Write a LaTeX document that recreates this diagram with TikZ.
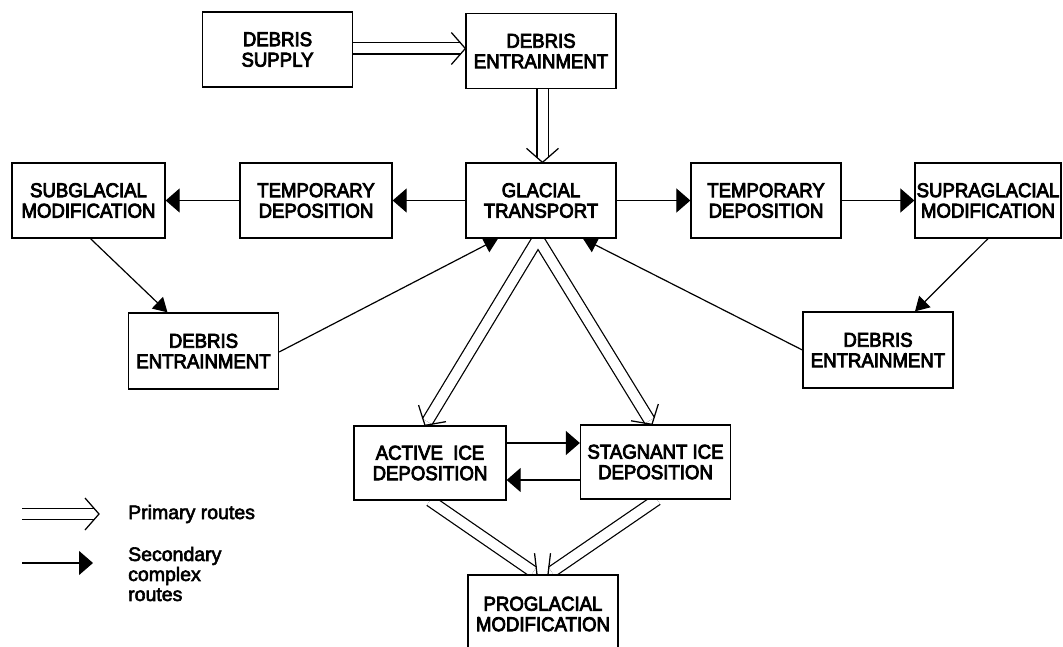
\documentclass[tikz,border=0pt]{standalone}
\usepackage{fontspec}
\newfontfamily\boxfont[FakeStretch=0.93,FakeBold=4]{Liberation Sans}
\newfontfamily\legfont[FakeBold=3]{Liberation Sans}
\usetikzlibrary{calc,arrows.meta,backgrounds}
\tikzset{
 box/.style={draw, line width=1.3pt, fill=white, minimum width=150pt, minimum height=75pt,
   inner sep=0pt, align=center, font=\boxfont\fontsize{20}{20.5}\selectfont},
 sec/.style={line width=1.2pt, -{Triangle[length=14pt,width=24pt]}},
 secd/.style={line width=1.2pt, -{Triangle[length=14pt,width=16pt]}},
 primb/.style={line width=12.5pt, black},
 primw/.style={line width=10pt, white},
 chev/.style={line width=1.25pt, line join=miter},
 legtext/.style={anchor=west, inner sep=0pt, align=left, font=\legfont\fontsize{19.5}{20}\selectfont}
}
\newcommand\primB[2]{\path ($(#2)!4.5pt!(#1)$) coordinate (pE); \draw[primb] (#1) -- (pE);}
\newcommand\primW[2]{\path ($(#2)!4.5pt!(#1)$) coordinate (pE) ($(#2)!14pt!(#1)$) coordinate (pK);
 \draw[primw] (#1) -- (pE);
 \draw[chev] ($(pK)!16pt!90:(#2)$) -- (#2) -- ($(pK)!16pt!-90:(#2)$);}
\newcommand\prim[2]{\primB{#1}{#2}\primW{#1}{#2}}
\begin{document}
\begin{tikzpicture}[x=1pt,y=-1pt]
\useasboundingbox (0,0) rectangle (1063,647);
\begin{pgfonlayer}{background}
\fill[white] (0,0) rectangle (1063,647);
\end{pgfonlayer}

\node[box] (supply) at (277.5,49.5) {DEBRIS\\SUPPLY};
\node[box] (entrT) at (541,51) {DEBRIS\\ENTRAINMENT};
\node[box] (gt) at (541,200.5) {GLACIAL\\TRANSPORT};
\node[box, minimum width=152pt] (tdL) at (316,200.5) {TEMPORARY\\DEPOSITION};
\node[box, minimum width=153pt] (sub) at (88.5,200.5) {SUBGLACIAL\\MODIFICATION};
\node[box] (tdR) at (766,200.5) {TEMPORARY\\DEPOSITION};
\node[box, minimum width=146pt] (supra) at (988,200.5) {SUPRAGLACIAL\\MODIFICATION};
\node[box, minimum height=76pt] (entrL) at (203.5,351) {DEBRIS\\ENTRAINMENT};
\node[box, minimum height=76pt] (entrR) at (878,350) {DEBRIS\\ENTRAINMENT};
\node[box, minimum width=152pt, minimum height=74pt] (active) at (430,463) {ACTIVE\ \ ICE\\DEPOSITION};
\node[box, minimum height=74pt] (stag) at (655.5,462) {STAGNANT ICE\\DEPOSITION};
\node[box, minimum height=78pt] (progl) at (543,614) {PROGLACIAL\\MODIFICATION};

\node[legtext] (legP) at (128,514) {Primary routes};
\node[legtext] (legS) at (128,574) {Secondary\\complex\\routes};

\coordinate (p1s) at ($(supply.east)+(0,-1)$);
\coordinate (p1e) at (entrT.west |- p1s);
\coordinate (p2s) at ($(entrT.south)+(1.5,0)$);
\coordinate (p2e) at (gt.north -| p2s);
\coordinate (vS) at ($(gt.south)+(-3,0)$);
\coordinate (aT) at ($(active.north)+(-5,0)$);
\coordinate (sT) at ($(stag.north)+(-3.5,0)$);
\coordinate (aB) at (active.south);
\coordinate (pA) at ($(progl.north)+(-6,0)$);
\coordinate (sB) at ($(stag.south)+(1.5,0)$);
\coordinate (pS) at ($(progl.north)+(5,0)$);
\coordinate (l1s) at (22,514);
\coordinate (l1e) at (99,514);
\coordinate (l2s) at (22,563);
\coordinate (l2e) at (93,563);
\coordinate (as1) at ($(active.east)+(0,-20)$);
\coordinate (as2) at (stag.west |- as1);
\coordinate (sa1) at ($(stag.west)+(0,18)$);
\coordinate (sa2) at (active.east |- sa1);

\begin{pgfonlayer}{background}
\prim{p1s}{p1e}
\prim{p2s}{p2e}
\primB{vS}{aT}\primB{vS}{sT}
\primW{vS}{aT}\primW{vS}{sT}
\prim{aB}{pA}
\prim{sB}{pS}
\prim{l1s}{l1e}

\draw[sec] (gt.west) -- (tdL.east);
\draw[sec] (tdL.west) -- (sub.east);
\draw[sec] (gt.east) -- (tdR.west);
\draw[sec] (tdR.east) -- (supra.west);
\draw[secd] ($(sub.south)+(2,0)$) -- ($(entrL.north)+(-36,0)$);
\draw[secd] (supra.south) -- ($(entrR.north)+(37,0)$);
\draw[secd] ($(entrL.east)+(0,1)$) -- ($(gt.south)+(-43,0)$);
\draw[secd] (entrR.west) -- ($(gt.south)+(42,0)$);
\draw[sec] (as1) -- (as2);
\draw[sec] (sa1) -- (sa2);
\draw[sec] (l2s) -- (l2e);
\end{pgfonlayer}
\end{tikzpicture}
\end{document}
